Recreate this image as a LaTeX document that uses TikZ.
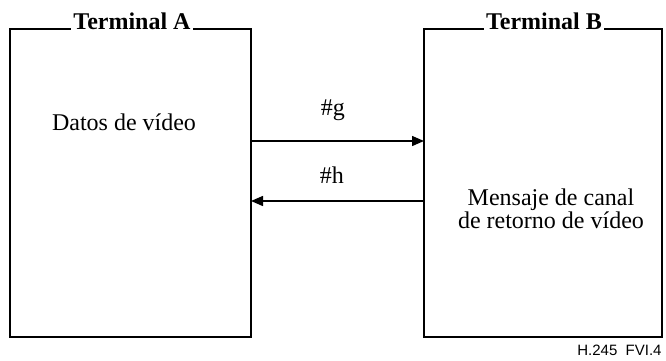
\documentclass[tikz,border=0pt]{standalone}
\usepackage{fontspec}
\setmainfont{Liberation Serif}
\newfontfamily\tagfont{Liberation Sans}
\usepackage{tikz}
\usetikzlibrary{arrows.meta}

\tikzset{
  termbox/.style={draw, line width=0.7pt, outer sep=0pt, inner sep=0pt},
  termtitle/.style={fill=white, inner sep=1pt, anchor=base, font=\fontsize{12}{12}\selectfont\bfseries},
  msgtext/.style={anchor=base, font=\fontsize{12}{12}\selectfont},
  flow/.style={line width=0.7pt, -{Triangle[length=6pt,width=5pt]}}
}

\begin{document}
\begin{tikzpicture}[x=0.5pt,y=-0.5pt]
\useasboundingbox (0,0) rectangle (666,360);
% the two terminals
\node[termbox, minimum width=120.5pt, minimum height=154pt] (termA) at (130.5,183) {};
\node[termbox, minimum width=119pt, minimum height=154pt] (termB) at (543,183) {};
\node[termtitle] (titleA) at (132,29) {Terminal A};
\node[termtitle] (titleB) at (544,29) {Terminal B};
% box contents
\node[msgtext] (datos) at (124,130) {Datos de v\'ideo};
\node[msgtext, align=center, font=\fontsize{12}{11.5}\selectfont] (mensaje) at (551,228) {Mensaje de canal\\de retorno de v\'ideo};
% messages
\draw[flow] ([yshift=-56pt]termA.north east) -- ([yshift=-56pt]termB.north west);
\draw[flow] ([yshift=-86pt]termB.north west) -- ([yshift=-86pt]termA.north east);
\node[msgtext] (lblg) at (333,115) {\#g};
\node[msgtext] (lblh) at (332,183) {\#h};
% figure tag
\node[anchor=base east, inner sep=0pt, font=\tagfont\fontsize{7.5}{7.5}\selectfont] (tag) at (662,355) {H.245\ \ FVI.4};
\end{tikzpicture}
\end{document}
